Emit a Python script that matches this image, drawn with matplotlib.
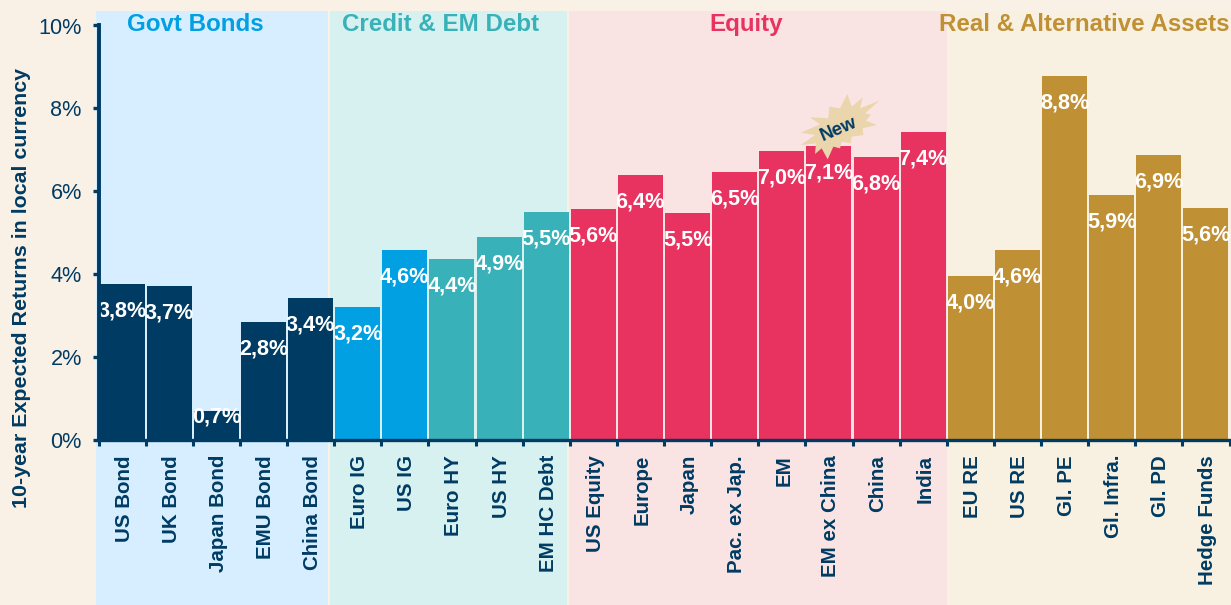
import matplotlib
matplotlib.use("Agg")
import matplotlib.pyplot as plt
from matplotlib.patches import Rectangle, Polygon

W, H = 1231, 605
DPI = 100
plt.rcParams['font.family'] = ['Liberation Sans', 'DejaVu Sans']

categories = ["US Bond", "UK Bond", "Japan Bond", "EMU Bond", "China Bond",
              "Euro IG", "US IG", "Euro HY", "US HY", "EM HC Debt",
              "US Equity", "Europe", "Japan", "Pac. ex Jap.", "EM", "EM ex China", "China", "India",
              "EU RE", "US RE", "Gl. PE", "Gl. Infra.", "Gl. PD", "Hedge Funds"]
values = [3.75, 3.70, 0.70, 2.85, 3.42,
          3.20, 4.58, 4.35, 4.88, 5.50,
          5.57, 6.38, 5.48, 6.47, 6.98, 7.08, 6.83, 7.43,
          3.95, 4.58, 8.77, 5.90, 6.88, 5.60]
value_labels = ["3,8%", "3,7%", "0,7%", "2,8%", "3,4%",
                "3,2%", "4,6%", "4,4%", "4,9%", "5,5%",
                "5,6%", "6,4%", "5,5%", "6,5%", "7,0%", "7,1%", "6,8%", "7,4%",
                "4,0%", "4,6%", "8,8%", "5,9%", "6,9%", "5,6%"]
group_names = ["Govt Bonds", "Credit & EM Debt", "Equity", "Real & Alternative Assets"]
title_colors = ["#00A0E3", "#38B2B8", "#E8325F", "#C09035"]
panel_colors = ["#D6EEFF", "#D6F1F0", "#F9E4E3", "#F8F0E0"]
panel_px = [(96, 328), (330, 567), (569, 947), (948, 1231)]
title_cx_px = [195, 441, 746, 1084]
yticks = [0, 2, 4, 6, 8, 10]
ylabel = "10-year Expected Returns in local currency"
NAVY = "#003B63"
BG = "#FAF1E6"

bar_colors = (["#003B63"] * 5 + ["#00A0E3"] * 2 + ["#38B2B8"] * 3 +
              ["#E8325F"] * 8 + ["#C09035"] * 6)

fig = plt.figure(figsize=(W / DPI, H / DPI), dpi=DPI, facecolor=BG)

for (x0, x1), c in zip(panel_px, panel_colors):
    fig.add_artist(Rectangle((x0 / W, 0), (x1 - x0) / W, (H - 11) / H,
                             transform=fig.transFigure, facecolor=c, edgecolor="none", zorder=0))

left, right, top, bottom = 98.5, 1229.5, 25.5, 439.5
ax = fig.add_axes([left / W, 1 - bottom / H, (right - left) / W, (bottom - top) / H], zorder=2)
ax.patch.set_alpha(0)
xs = list(range(len(categories)))
ax.bar(xs, values, width=0.955, color=bar_colors, linewidth=0, zorder=2)
ax.set_xlim(-0.5, len(categories) - 0.5)
ax.set_ylim(0, 10)

for x, v, lab in zip(xs, values, value_labels):
    if v > 1:
        ax.annotate(lab, (x, v), xytext=(0, -27 * 72 / DPI), textcoords="offset points",
                    ha="center", va="center", color="white", fontsize=15.6, fontweight="bold", zorder=4)
    else:
        ax.annotate(lab, (x, 0), xytext=(0, 23 * 72 / DPI), textcoords="offset points",
                    ha="center", va="center", color="white", fontsize=15.6, fontweight="bold", zorder=4)

for s in ["top", "right"]:
    ax.spines[s].set_visible(False)
ax.spines["left"].set_color(NAVY)
ax.spines["left"].set_linewidth(2.8)
ax.spines["bottom"].set_color(NAVY)
ax.spines["bottom"].set_linewidth(2.4)
ax.spines["left"].set_zorder(5)
ax.spines["bottom"].set_zorder(5)

ax.set_yticks(yticks)
ax.set_yticklabels([f"{t}%" for t in yticks], fontsize=15.6, color=NAVY)
ax.tick_params(axis="y", length=4, width=2.4, color=NAVY, pad=8)

ax.set_xticks([i - 0.5 for i in range(len(categories) + 1)])
ax.set_xticklabels([])
ax.tick_params(axis="x", length=4, width=2.2, color=NAVY)
for x, c in zip(xs, categories):
    ax.annotate(c, (x, 0), xytext=(2 * 72 / DPI, -15.5 * 72 / DPI), textcoords="offset points", rotation=90,
                ha="center", va="top", color=NAVY, fontsize=14.8, fontweight="bold",
                annotation_clip=False)

for name, cx, c in zip(group_names, title_cx_px, title_colors):
    fig.text(cx / W, 1 - 24.5 / H, name, ha="center", va="center", color=c,
             fontsize=17.4, fontweight="bold", zorder=6)

fig.text(22 / W, 1 - 288 / H, ylabel, rotation=90, ha="center", va="center",
         color=NAVY, fontsize=15.4, fontweight="bold")

# "New" starburst callout (pixel outline)
burst = [(262, 42), (275, 80), (308, 52), (300, 85), (358, 62), (315, 100), (333, 104), (318, 122),
         (350, 135), (308, 145), (310, 165), (275, 170), (272, 190), (245, 185), (240, 205), (220, 200),
         (203, 238), (185, 205), (165, 222), (168, 190), (122, 195), (165, 165), (123, 158), (180, 133),
         (150, 112), (205, 115), (208, 80), (240, 85)]
pts = [((760 + a / 3) / W, 1 - (80 + b / 3) / H) for a, b in burst]
fig.add_artist(Polygon(pts, closed=True, transform=fig.transFigure, facecolor="#EAD5AC",
                       edgecolor="none", zorder=7))
fig.text(838.5 / W, 1 - 129 / H, "New", rotation=23, ha="center", va="center", color=NAVY,
         fontsize=13.4, fontweight="bold", zorder=8)

fig.savefig("out.png", dpi=DPI, facecolor=BG)
